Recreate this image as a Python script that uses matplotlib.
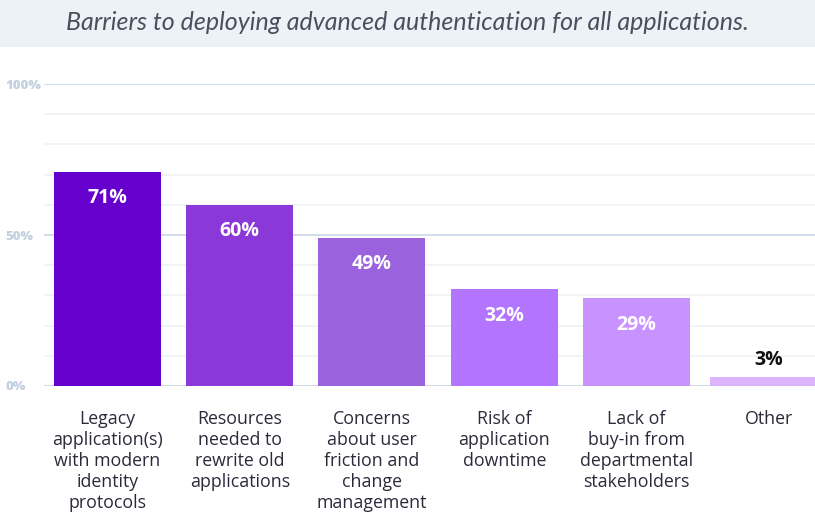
import numpy as np
import matplotlib.pyplot as plt
from matplotlib.patches import Rectangle

# barrier categories and share of respondents (%)
categories = [
    "Legacy\napplication(s)\nwith modern\nidentity\nprotocols",
    "Resources\nneeded to\nrewrite old\napplications",
    "Concerns\nabout user\nfriction and\nchange\nmanagement",
    "Risk of\napplication\ndowntime",
    "Lack of\nbuy-in from\ndepartmental\nstakeholders",
    "Other",
]
values = [71, 60, 49, 32, 29, 3]
bar_colors = ["#6600cc", "#8a38d8", "#9a63dd", "#b374ff", "#c993ff", "#dcb4fd"]
bar_widths = [0.809, 0.809, 0.809, 0.809, 0.809, 0.888]
yticks = [0, 50, 100]
ytick_labels = ["0%", "50%", "100%"]
title = "Barriers to deploying advanced authentication for all applications."

W, H = 815, 518
fig = plt.figure(figsize=(W / 100, H / 100), dpi=100)
fig.patch.set_facecolor("white")

# title band across the top
fig.patches.append(Rectangle((0, 1 - 47 / H), 1, 47 / H, transform=fig.transFigure,
                             facecolor="#edf2f7", edgecolor="none", zorder=0))
fig.text(0.5, 1 - 23 / H, title, ha="center", va="center", fontsize=18,
         style="italic", color="#4a4f5e", family="Lato")

ax = fig.add_axes([44 / W, (H - 386) / H, (W - 44) / W, (386 - 84) / H])
ax.set_facecolor("none")

x = np.arange(len(values))
ax.bar(x, values, width=bar_widths, color=bar_colors, zorder=3)

ax.set_xlim(-0.48, 5.35)
ax.set_ylim(0, 100)

# light minor grid every 10%, stronger lines at 0/50/100
for v in range(10, 100, 10):
    if v != 50:
        ax.axhline(v, color="#eef2f6", lw=1.2, zorder=1)
for v in yticks[1:]:
    ax.axhline(v, color="#c8d7e6", lw=1.2, zorder=2)
ax.axhline(0, color="#d3dce6", lw=2.2, zorder=2)

# value labels: inside the bar near its top, or just above a short bar
for xi, v in zip(x, values):
    if v > 10:
        ax.annotate(f"{v}%", (xi, v), xytext=(0, -19), textcoords="offset points",
                    ha="center", va="center", color="white", fontsize=14,
                    fontweight="bold", family="Open Sans", zorder=4)
    else:
        ax.annotate(f"{v}%", (xi, v), xytext=(0, 12.5), textcoords="offset points",
                    ha="center", va="center", color="#111111", fontsize=14,
                    fontweight="bold", family="Open Sans", zorder=4)

ax.set_yticks(yticks)
ax.set_yticklabels(ytick_labels)
ax.tick_params(axis="y", length=0, pad=28, labelsize=9.5, labelcolor="#c2d0df")
for lbl in ax.get_yticklabels():
    lbl.set_fontweight("heavy")
    lbl.set_family("Open Sans")
    lbl.set_horizontalalignment("left")

ax.set_xticks(x)
ax.set_xticklabels(categories, fontsize=12.8, color="#2a2a3a", family="Open Sans",
                   linespacing=1.22)
ax.tick_params(axis="x", length=0, pad=17)

for s in ax.spines.values():
    s.set_visible(False)

fig.savefig("out.png", dpi=100)
